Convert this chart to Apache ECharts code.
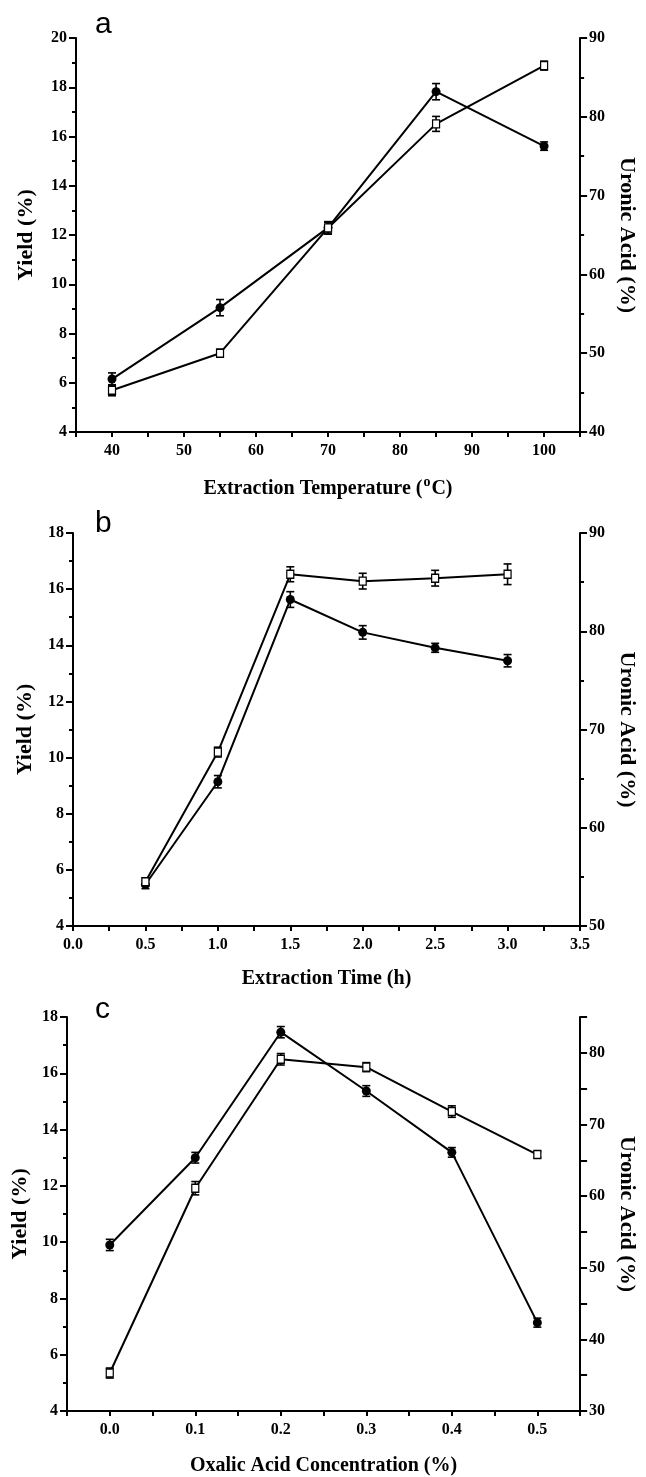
<!DOCTYPE html>
<html>
<head>
<meta charset="utf-8">
<script src="https://cdn.jsdelivr.net/npm/echarts@6/dist/echarts.min.js"></script>
<style>
  html, body { margin: 0; padding: 0; background: #fff; }
  #chart { width: 646px; height: 1477px; }
</style>
</head>
<body>
<div id="chart"></div>
<script>
// panel a: extraction temperature
var tempC = [40, 55, 70, 85, 100];
var yieldA = [6.15, 9.05, 12.3, 17.82, 15.61];
var yieldAErr = [0.25, 0.33, 0.22, 0.33, 0.17];
var uronicA = [45.3, 50.0, 65.9, 79.1, 86.5];
var uronicAErr = [0.7, 0.5, 0.8, 0.95, 0.57];

// panel b: extraction time
var timeH = [0.5, 1.0, 1.5, 2.0, 2.5, 3.0];
var yieldB = [5.48, 9.14, 15.63, 14.46, 13.91, 13.45];
var yieldBErr = [0.15, 0.22, 0.28, 0.24, 0.16, 0.22];
var uronicB = [54.5, 67.7, 85.8, 85.1, 85.4, 85.8];
var uronicBErr = [0.4, 0.5, 0.76, 0.8, 0.8, 1.05];

// panel c: oxalic acid concentration
var oxalic = [0.0, 0.1, 0.2, 0.3, 0.4, 0.5];
var yieldC = [9.9, 13.0, 17.46, 15.37, 13.19, 7.14];
var yieldCErr = [0.2, 0.19, 0.2, 0.19, 0.17, 0.16];
var uronicC = [35.3, 61.1, 79.1, 78.0, 71.8, 65.8];
var uronicCErr = [0.7, 0.93, 0.8, 0.63, 0.8, 0.4];

var serif = 'Liberation Serif';
var labelStyle = { color: '#000', fontFamily: serif, fontWeight: 'bold', fontSize: 16 };
var xNameStyle = { color: '#000', fontFamily: serif, fontWeight: 'bold', fontSize: 20 };
var yNameStyle = { color: '#000', fontFamily: serif, fontWeight: 'bold', fontSize: 22 };
var axisLine = { show: true, onZero: false, lineStyle: { color: '#000', width: 2 } };

function pairs(xs, ys) {
  return xs.map(function (x, i) { return [x, ys[i]]; });
}
function errData(xs, ys, es) {
  return xs.map(function (x, i) { return [x, ys[i] - es[i], ys[i] + es[i]]; });
}

// error bar: vertical stem with two caps
function renderErr(params, api) {
  var top = api.coord([api.value(0), api.value(2)]);
  var bot = api.coord([api.value(0), api.value(1)]);
  var w = 4;
  var st = { stroke: '#000', lineWidth: 1.6 };
  return {
    type: 'group',
    children: [
      { type: 'line', shape: { x1: top[0], y1: top[1], x2: bot[0], y2: bot[1] }, style: st },
      { type: 'line', shape: { x1: top[0] - w, y1: top[1], x2: top[0] + w, y2: top[1] }, style: st },
      { type: 'line', shape: { x1: bot[0] - w, y1: bot[1], x2: bot[0] + w, y2: bot[1] }, style: st }
    ]
  };
}

function xAxisFor(idx, min, max, interval, fmt, name, gap) {
  return {
    type: 'value', gridIndex: idx, min: min, max: max, interval: interval,
    name: name, nameLocation: 'middle', nameGap: gap,
    nameTextStyle: Object.assign({}, xNameStyle, {
      rich: {
        n: { fontFamily: serif, fontWeight: 'bold', fontSize: 20, lineHeight: 24, verticalAlign: 'bottom', color: '#000' },
        sup: { fontFamily: serif, fontWeight: 'bold', fontSize: 14, lineHeight: 12, verticalAlign: 'top', color: '#000', padding: [0, 1, 0, 1] }
      }
    }),
    axisLine: axisLine,
    axisTick: { show: true, inside: false, length: 5, lineStyle: { color: '#000', width: 2 } },
    axisLabel: Object.assign({ margin: 11, formatter: fmt, showMinLabel: true, showMaxLabel: true }, labelStyle),
    splitLine: { show: false }
  };
}

function yAxisFor(idx, pos, min, max, interval, minor, fmt, name, gap) {
  return {
    type: 'value', gridIndex: idx, position: pos, min: min, max: max, interval: interval,
    name: name, nameLocation: 'middle', nameGap: gap, nameRotate: pos === 'right' ? -90 : 90,
    nameTextStyle: yNameStyle,
    axisLine: axisLine,
    axisTick: { show: true, inside: false, length: 7, lineStyle: { color: '#000', width: 2 } },
    minorTick: { show: minor, splitNumber: 2, length: 4, lineStyle: { color: '#000', width: 2 } },
    axisLabel: Object.assign({ margin: 9, formatter: fmt }, labelStyle),
    splitLine: { show: false },
    alignTicks: false
  };
}

function panelSeries(idx, xs, yv, ye, uv, ue) {
  return [
    {
      type: 'custom', xAxisIndex: idx, yAxisIndex: idx * 2, z: 2,
      renderItem: renderErr, encode: { x: 0, y: [1, 2] },
      data: errData(xs, yv, ye), silent: true
    },
    {
      type: 'custom', xAxisIndex: idx, yAxisIndex: idx * 2 + 1, z: 2,
      renderItem: renderErr, encode: { x: 0, y: [1, 2] },
      data: errData(xs, uv, ue), silent: true
    },
    {
      name: 'Yield', type: 'line', xAxisIndex: idx, yAxisIndex: idx * 2, z: 3,
      data: pairs(xs, yv), symbol: 'circle', symbolSize: 9, showAllSymbol: true,
      lineStyle: { color: '#000', width: 2 },
      itemStyle: { color: '#000', borderColor: '#000', borderWidth: 0 },
      animation: false
    },
    {
      name: 'Uronic Acid', type: 'line', xAxisIndex: idx, yAxisIndex: idx * 2 + 1, z: 4,
      data: pairs(xs, uv), symbol: 'rect', symbolSize: [7, 8], showAllSymbol: true,
      lineStyle: { color: '#000', width: 2 },
      itemStyle: { color: '#fff', borderColor: '#000', borderWidth: 1.3 },
      animation: false
    }
  ];
}

var tenths = function (v) { return Math.round(v) % 10 === 0 ? String(Math.round(v)) : ''; };
var halfH = function (v) { var k = Math.round(v * 100); return k % 50 === 0 ? (k / 100).toFixed(1) : ''; };
var tenthPct = function (v) { var k = Math.round(v * 100); return k % 10 === 0 ? (k / 100).toFixed(1) : ''; };
var plain = function (v) { return String(v); };

var letterFont = 'normal 30px "Liberation Sans"';

var option = {
  animation: false,
  backgroundColor: '#fff',
  grid: [
    { left: 76, top: 38, width: 513, height: 394 },
    { left: 73, top: 533, width: 513, height: 393 },
    { left: 67, top: 1017, width: 515, height: 394 }
  ],
  graphic: [
    { type: 'text', left: 95, top: 10, style: { text: 'a', font: letterFont, fill: '#000' } },
    { type: 'text', left: 95, top: 509, style: { text: 'b', font: letterFont, fill: '#000' } },
    { type: 'text', left: 95, top: 995, style: { text: 'c', font: letterFont, fill: '#000' } }
  ],
  xAxis: [
    xAxisFor(0, 35, 105, 5, tenths, '{n|Extraction Temperature (}{sup|o}{n|C)}', 43),
    xAxisFor(1, 0, 3.5, 0.25, halfH, 'Extraction Time (h)', 43),
    xAxisFor(2, -0.05, 0.55, 0.05, tenthPct, 'Oxalic Acid Concentration (%)', 45)
  ],
  yAxis: [
    yAxisFor(0, 'left', 4, 20, 2, true, plain, 'Yield (%)', 39),
    yAxisFor(0, 'right', 40, 90, 10, true, plain, 'Uronic Acid (%)', 35),
    yAxisFor(1, 'left', 4, 18, 2, true, plain, 'Yield (%)', 37),
    yAxisFor(1, 'right', 50, 90, 10, true, plain, 'Uronic Acid (%)', 36),
    yAxisFor(2, 'left', 4, 18, 2, true, plain, 'Yield (%)', 35),
    yAxisFor(2, 'right', 30, 85, 5, false, tenths, 'Uronic Acid (%)', 35)
  ],
  series: []
    .concat(panelSeries(0, tempC, yieldA, yieldAErr, uronicA, uronicAErr))
    .concat(panelSeries(1, timeH, yieldB, yieldBErr, uronicB, uronicBErr))
    .concat(panelSeries(2, oxalic, yieldC, yieldCErr, uronicC, uronicCErr))
};

var chart = echarts.init(document.getElementById('chart'), null, { renderer: 'canvas' });
chart.setOption(option);
</script>
</body>
</html>
